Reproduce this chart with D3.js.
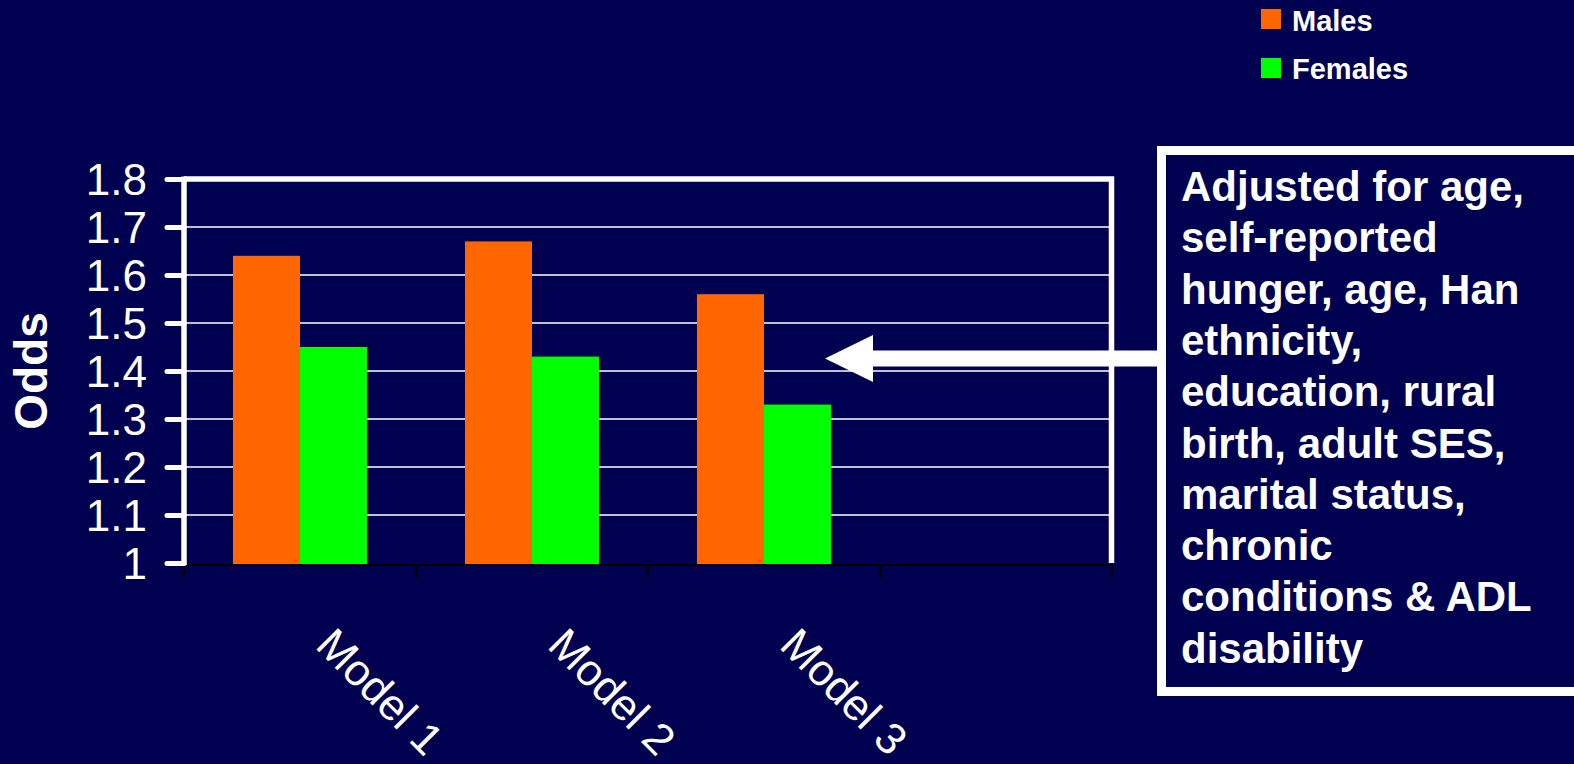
<!DOCTYPE html>
<html>
<head>
<meta charset="utf-8">
<script src="https://cdn.jsdelivr.net/npm/d3@7/dist/d3.min.js"></script>
<style>
  html, body { margin: 0; padding: 0; background: #000050; }
  svg { display: block; }
  text { font-family: "Liberation Sans", Arial, sans-serif; fill: #ffffff; }
</style>
</head>
<body>
<script>
// Chart data
const categories = ["Model 1", "Model 2", "Model 3", ""];
const seriesNames = ["Males", "Females"];
const seriesColors = ["#ff6600", "#00ff00"];
const males = [1.64, 1.67, 1.56];
const females = [1.45, 1.43, 1.33];
const yTickValues = [1, 1.1, 1.2, 1.3, 1.4, 1.5, 1.6, 1.7, 1.8];
const yTickLabels = ["1", "1.1", "1.2", "1.3", "1.4", "1.5", "1.6", "1.7", "1.8"];
const yTitle = "Odds";
const noteLines = [
  "Adjusted for age,",
  "self-reported",
  "hunger, age, Han",
  "ethnicity,",
  "education, rural",
  "birth, adult SES,",
  "marital status,",
  "chronic",
  "conditions & ADL",
  "disability"
];

const W = 1574, H = 764;
const plot = { left: 184, right: 1112, top: 179, bottom: 563 };

const svg = d3.select("body").append("svg")
  .attr("width", W).attr("height", H);

svg.append("rect").attr("width", W).attr("height", H).attr("fill", "#000050");

const x0 = d3.scaleBand().domain(categories)
  .range([plot.left, plot.right]).paddingInner(0).paddingOuter(0);
const x1 = d3.scaleBand().domain(seriesNames)
  .range([0, x0.bandwidth()]).paddingInner(0).paddingOuter(0.731);
const y = d3.scaleLinear().domain([1, 1.8]).range([plot.bottom, plot.top]);

// Horizontal gridlines
svg.append("g").selectAll("line")
  .data(yTickValues.filter(v => v > 1 && v < 1.8))
  .join("line")
  .attr("x1", plot.left).attr("x2", plot.right - 1)
  .attr("y1", d => y(d)).attr("y2", d => y(d))
  .attr("stroke", "#ffffff").attr("stroke-width", 1.6);

// Bars
const rows = categories.slice(0, males.length).map((c, i) => ({
  category: c,
  values: [
    { name: seriesNames[0], value: males[i], color: seriesColors[0] },
    { name: seriesNames[1], value: females[i], color: seriesColors[1] }
  ]
}));

svg.append("g").selectAll("g")
  .data(rows).join("g")
  .attr("transform", d => `translate(${x0(d.category)},0)`)
  .selectAll("rect")
  .data(d => d.values).join("rect")
  .attr("x", d => x1(d.name))
  .attr("width", x1.bandwidth())
  .attr("y", d => y(d.value))
  .attr("height", d => y(1) - y(d.value) + 1)
  .attr("fill", d => d.color);

// Category axis (dark line with boundary ticks)
const xAxis = d3.axisBottom(x0).tickSize(0).tickFormat("");
const gx = svg.append("g").attr("transform", `translate(0,${plot.bottom + 2})`).call(xAxis);
gx.select(".domain").attr("stroke", "#000000").attr("stroke-width", 2.2)
  .attr("d", `M${plot.left},0H${plot.right}`);
const bounds = categories.map(c => x0(c)).concat([plot.right]);
gx.selectAll(".bound").data(bounds).join("line")
  .attr("class", "bound")
  .attr("x1", d => d).attr("x2", d => d)
  .attr("y1", 0).attr("y2", 13)
  .attr("stroke", "#000000").attr("stroke-width", 2.2);

// Rotated category labels
svg.append("g").selectAll("text")
  .data(categories.filter(c => c !== ""))
  .join("text")
  .attr("transform", d => `translate(${x0(d) + x0.bandwidth() / 2 + 14},647) rotate(45)`)
  .attr("text-anchor", "start")
  .attr("font-size", 44)
  .text(d => d);

// Plot frame: top and right edges
svg.append("path")
  .attr("d", `M${plot.left},${plot.top}H${plot.right - 0.5}V${plot.bottom}`)
  .attr("fill", "none").attr("stroke", "#ffffff").attr("stroke-width", 5.5)
  .attr("stroke-linejoin", "miter");

// Value axis
const yAxis = d3.axisLeft(y).tickValues(yTickValues)
  .tickSize(17).tickPadding(20)
  .tickFormat((d, i) => yTickLabels[i]);
const gy = svg.append("g").attr("transform", `translate(${plot.left},0)`).call(yAxis);
gy.select(".domain").attr("stroke", "#ffffff").attr("stroke-width", 5.5)
  .attr("d", `M0,${plot.top - 2.5}V${plot.bottom + 2}`);
gy.selectAll(".tick line").attr("stroke", "#ffffff").attr("stroke-width", 5)
  .attr("stroke-linecap", "round");
gy.selectAll(".tick text")
  .attr("fill", "#ffffff")
  .attr("font-size", 44)
  .attr("font-family", "\"Liberation Sans\", Arial, sans-serif")
  .attr("dy", "0.36em");

// Value axis title
svg.append("text")
  .attr("transform", "translate(47,371) rotate(-90)")
  .attr("text-anchor", "middle")
  .attr("font-size", 46).attr("font-weight", "bold")
  .text(yTitle);

// Legend
const legend = svg.append("g");
const legendItems = seriesNames.map((n, i) => ({ name: n, color: seriesColors[i], i }));
legend.selectAll("rect").data(legendItems).join("rect")
  .attr("x", 1261).attr("y", d => 9 + d.i * 49)
  .attr("width", 20).attr("height", 20)
  .attr("fill", d => d.color);
legend.selectAll("text").data(legendItems).join("text")
  .attr("x", 1292).attr("y", d => 31 + d.i * 47.5)
  .attr("font-size", 29).attr("font-weight", "bold")
  .text(d => d.name);

// Note box with arrow
svg.append("rect")
  .attr("x", 1161.5).attr("y", 150.5)
  .attr("width", 420).attr("height", 541)
  .attr("fill", "none").attr("stroke", "#ffffff").attr("stroke-width", 9);

svg.append("g").selectAll("text").data(noteLines).join("text")
  .attr("x", 1181).attr("y", (d, i) => 201 + i * 51.3)
  .attr("font-size", 42).attr("font-weight", "bold")
  .text(d => d);

svg.append("path")
  .attr("d", "M1158,350.5H873V335L825,358.5L873,382V366.5H1158Z")
  .attr("fill", "#ffffff");
</script>
</body>
</html>
